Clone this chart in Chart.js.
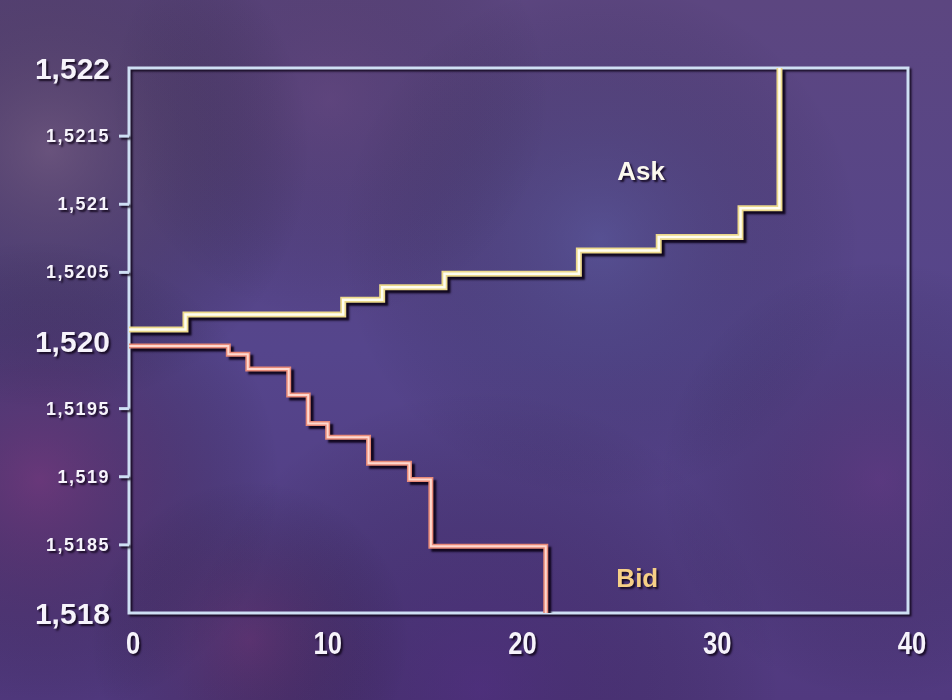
<!DOCTYPE html>
<html><head><meta charset="utf-8">
<script src="https://cdn.jsdelivr.net/npm/chart.js@4.4.1/dist/chart.umd.min.js"></script>
<style>html,body{margin:0;padding:0;background:#5a4784;overflow:hidden}#wrap{width:952px;height:700px;position:relative}</style>
</head><body><div id="wrap"><canvas id="c" width="952" height="700"></canvas></div>
<script>
// ---- data ----
const askVolume = [0, 2.9, 11.0, 13.0, 16.2, 23.1, 27.2, 31.4, 33.4];
const askPrice  = [1.52008, 1.52019, 1.52030, 1.52039, 1.52049, 1.52066, 1.52076, 1.52097, 1.52200];
const bidVolume = [0, 5.1, 6.1, 8.2, 9.2, 10.2, 12.3, 14.4, 15.5, 21.4];
const bidPrice  = [1.51996, 1.51990, 1.51979, 1.51960, 1.51939, 1.51929, 1.51910, 1.51898, 1.51849, 1.51800];
const xTickLabels = ['0', '10', '20', '30', '40'];
const yTickLabels = ['1,518', '1,5185', '1,519', '1,5195', '1,520', '1,5205', '1,521', '1,5215', '1,522'];
const seriesNames = ['Ask', 'Bid'];
const labelAnchors = [[26.3, 1.52123], [26.1, 1.51824]];

function pts(xs, ys){ return xs.map((x,i)=>({x:x, y:ys[i]})); }
function isMajor(v){ return Math.abs(v*500 - Math.round(v*500)) < 1e-6; }

const SHADOW = 'rgba(15,5,25,0.85)';

const bgPlugin = {
  id:'bg',
  beforeDraw(chart){
    const ctx = chart.ctx, W = chart.width, H = chart.height;
    ctx.save();
    const lg = ctx.createLinearGradient(0,0,0,H);
    lg.addColorStop(0,'#5c4680'); lg.addColorStop(0.5,'#55458c'); lg.addColorStop(1,'#51397f');
    ctx.fillStyle = lg; ctx.fillRect(0,0,W,H);
    const blobs = [
      [50,150,260,'rgba(120,95,115,0.50)'],
      [40,480,240,'rgba(130,45,105,0.45)'],
      [600,240,260,'rgba(85,105,170,0.30)'],
      [480,690,300,'rgba(70,30,115,0.35)'],
      [880,480,220,'rgba(105,40,110,0.30)'],
      [330,100,220,'rgba(105,65,105,0.25)'],
      [250,640,160,'rgba(120,40,90,0.30)']
    ];
    for (const [x,y,r,c] of blobs){
      const g = ctx.createRadialGradient(x,y,0,x,y,r);
      g.addColorStop(0,c); g.addColorStop(1,'rgba(0,0,0,0)');
      ctx.fillStyle = g; ctx.fillRect(0,0,W,H);
    }
    ctx.restore();
  },
  beforeDatasetsDraw(chart){
    const ctx = chart.ctx, a = chart.chartArea;
    ctx.save();
    ctx.shadowColor = SHADOW; ctx.shadowOffsetX = 2; ctx.shadowOffsetY = 2; ctx.shadowBlur = 2;
    ctx.strokeStyle = '#cfdff4'; ctx.lineWidth = 3;
    ctx.strokeRect(a.left, a.top, a.right - a.left, a.bottom - a.top);
    const ys = chart.scales.y;
    ys.ticks.forEach((t)=>{
      if (isMajor(t.value)) return;
      const py = ys.getPixelForValue(t.value);
      ctx.beginPath(); ctx.moveTo(a.left - 10, py); ctx.lineTo(a.left, py); ctx.stroke();
    });
    ctx.restore();
  },
  beforeDatasetDraw(chart, args){
    const ds = chart.data.datasets[args.index];
    chart.ctx.save();
    if (ds.shadow){
      chart.ctx.shadowColor = 'rgba(10,0,20,0.9)';
      chart.ctx.shadowOffsetX = 3; chart.ctx.shadowOffsetY = 3; chart.ctx.shadowBlur = 2;
    }
  },
  afterDatasetDraw(chart){ chart.ctx.restore(); },
  afterDraw(chart){
    const ctx = chart.ctx, a = chart.chartArea;
    const ys = chart.scales.y, xs = chart.scales.x;
    ctx.save();
    ctx.shadowColor = SHADOW; ctx.shadowOffsetX = 2; ctx.shadowOffsetY = 2; ctx.shadowBlur = 2;
    ctx.fillStyle = '#f6f3fb';
    ctx.textBaseline = 'middle';
    ctx.textAlign = 'right';
    ys.ticks.forEach((t,i)=>{
      const py = ys.getPixelForValue(t.value);
      if (isMajor(t.value)){
        ctx.letterSpacing = '0px';
        ctx.font = 'bold 30px "Liberation Sans", Arial, sans-serif';
        ctx.fillText(yTickLabels[i], a.left - 19, py + 3);
      } else {
        ctx.letterSpacing = '1.5px';
        ctx.font = 'bold 18px "Liberation Sans", Arial, sans-serif';
        ctx.fillText(yTickLabels[i], a.left - 19, py + 1);
      }
    });
    ctx.letterSpacing = '0px';
    ctx.textAlign = 'center';
    ctx.font = 'bold 32px "Liberation Sans", Arial, sans-serif';
    xs.ticks.forEach((t,i)=>{
      const px = xs.getPixelForValue(t.value);
      ctx.save();
      ctx.translate(px + 4, a.bottom + 32);
      ctx.scale(0.8, 1);
      ctx.fillText(xTickLabels[i], 0, 0);
      ctx.restore();
    });
    ctx.font = 'bold 26px "Liberation Sans", Arial, sans-serif';
    const colors = ['#fbf8ee', '#f6cf86'];
    seriesNames.forEach((n,i)=>{
      ctx.fillStyle = colors[i];
      ctx.fillText(n, xs.getPixelForValue(labelAnchors[i][0]), ys.getPixelForValue(labelAnchors[i][1]));
    });
    ctx.restore();
  }
};

const lineBase = { showLine: true, stepped: 'before', pointRadius: 0, borderJoinStyle: 'miter', borderCapStyle: 'butt', fill: false };

new Chart(document.getElementById('c'), {
  type: 'scatter',
  data: {
    datasets: [
      Object.assign({ label: seriesNames[0], data: pts(askVolume, askPrice),
        borderColor: '#ecd98c', borderWidth: 6, shadow: true, order: 2 }, lineBase),
      Object.assign({ label: seriesNames[0] + ' core', data: pts(askVolume, askPrice),
        borderColor: '#fffdf0', borderWidth: 2.5, order: 1 }, lineBase),
      Object.assign({ label: seriesNames[1], data: pts(bidVolume, bidPrice),
        borderColor: '#e88a78', borderWidth: 5, shadow: true, order: 2 }, lineBase),
      Object.assign({ label: seriesNames[1] + ' core', data: pts(bidVolume, bidPrice),
        borderColor: '#ffd9cf', borderWidth: 2, order: 1 }, lineBase)
    ]
  },
  options: {
    responsive: false,
    animation: false,
    events: [],
    layout: { padding: { top: 68, right: 44, left: 0, bottom: 0 } },
    plugins: { legend: { display: false }, tooltip: { enabled: false } },
    scales: {
      x: { type: 'linear', min: 0, max: 40,
           ticks: { display: false, stepSize: 10 },
           grid: { display: false }, border: { display: false },
           afterFit(s){ s.height = 87; } },
      y: { type: 'linear', min: 1.518, max: 1.522,
           ticks: { display: false, stepSize: 0.0005 },
           grid: { display: false }, border: { display: false },
           afterFit(s){ s.width = 129; } }
    }
  },
  plugins: [bgPlugin]
});
</script>
</body></html>
